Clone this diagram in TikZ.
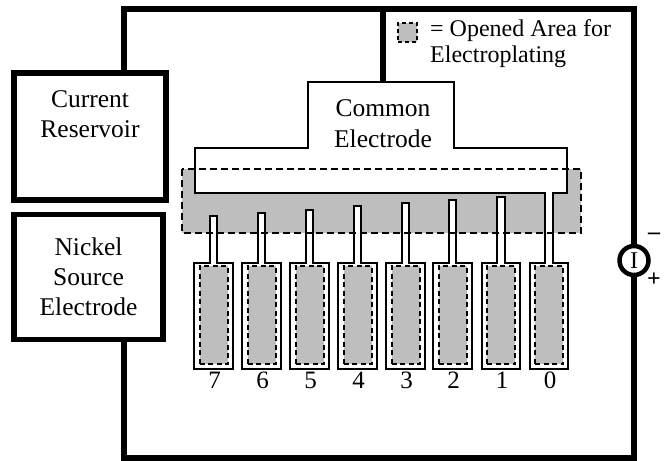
\documentclass[tikz,border=0pt]{standalone}
\usepackage{fontspec}
\setmainfont{Liberation Serif}
\usetikzlibrary{positioning}
\definecolor{opened}{RGB}{190,190,190}
\begin{document}
\begin{tikzpicture}[
				x=1pt,y=-1pt,
				wire/.style={line width=5.5pt},
				box/.style={draw,line width=5.5pt,fill=white,align=center,inner sep=0pt,
					font=\fontsize{25.5}{30}\selectfont},
				trace/.style={draw,line width=2pt,fill=white,line join=miter},
				area/.style={draw,line width=2pt,fill=opened,dash pattern=on 5pt off 3.5pt,
					inner sep=0pt,minimum width=28pt,minimum height=98pt},
				lbl/.style={inner sep=0pt,align=center,font=\fontsize{25.5}{31}\selectfont},
				num/.style={inner sep=0pt,anchor=base,font=\fontsize{25}{30}\selectfont}]
				\useasboundingbox (0,0) rectangle (668,460);
				% corners of the loop
				\coordinate (tl) at (124,9);
				\coordinate (tr) at (634,9);
				\coordinate (bl) at (124,458);
				\coordinate (br) at (634,458);
				\node[box,minimum width=152pt,minimum height=127pt,text depth=45pt] (reservoir) at (90,136.5) {Current\\Reservoir};
				\node[box,minimum width=149pt,minimum height=125pt] (nickel) at (88.5,277) {Nickel\\Source\\Electrode};
				\node[circle,draw,line width=4.5pt,fill=white,minimum size=29pt,inner sep=0pt,
					font=\fontsize{24}{24}\selectfont] (source) at (634,260.5) {I};
				\node[inner sep=0pt,font=\bfseries\fontsize{24}{24}\selectfont] (minus) at (654,236) {--};
				\node[inner sep=0pt,font=\bfseries\fontsize{24}{24}\selectfont] (plus) at (654,280) {+};
				% opened window
				\fill[opened] (182,169) rectangle (581,233);
				% common electrode, with finger 0
				\draw[trace] (195,148) -- (308,148) -- (308,82) -- (454,82) -- (454,148) -- (567,148)
					-- (567,193) -- (552.5,193) -- (552.5,263) -- (568,263) -- (568,369) -- (530,369)
					-- (530,263) -- (544.5,263) -- (544.5,193) -- (195,193) -- cycle;
				\node[lbl] (common) at (383,124) {Common\\Electrode};
				% fingers
				\foreach \n/\x/\t in {7/213.5/216,6/261.5/213,5/309.5/210,4/357.5/206,3/405.5/203,2/452.5/200,1/501/197}{
					\draw[trace] (\x-19.25,263) -- (\x-3.75,263) -- (\x-3.75,\t) -- (\x+3.75,\t)
						-- (\x+3.75,263) -- (\x+19.25,263) -- (\x+19.25,369) -- (\x-19.25,369) -- cycle;
					\node[area] (area\n) at (\x,315) {};
					\node[num] (num\n) at (\x+1,388) {\n};
				}
				\node[area] (area0) at (549,315) {};
				\node[num] (num0) at (550,388) {0};
				\draw[line width=2pt,dash pattern=on 7pt off 4pt] (182,169) rectangle (581,233);
				% legend
				\node[draw,line width=2pt,fill=opened,dash pattern=on 4pt off 3pt,minimum size=19pt,inner sep=0pt] (swatch) at (407.5,33) {};
				\node[inner sep=0pt,align=left,anchor=west,font=\fontsize{24}{26}\selectfont] (legend) at (430,44) {= Opened Area for\\Electroplating};
				% loop
				\draw[wire] (reservoir.north -| tl) -- (tl) -- (tr) -- (source.north);
				\draw[wire] (source.south) -- (br) -- (bl) -- (nickel.south -| bl);
				\draw[wire] (common |- tl) -- (383,82);
			\end{tikzpicture}
\end{document}
